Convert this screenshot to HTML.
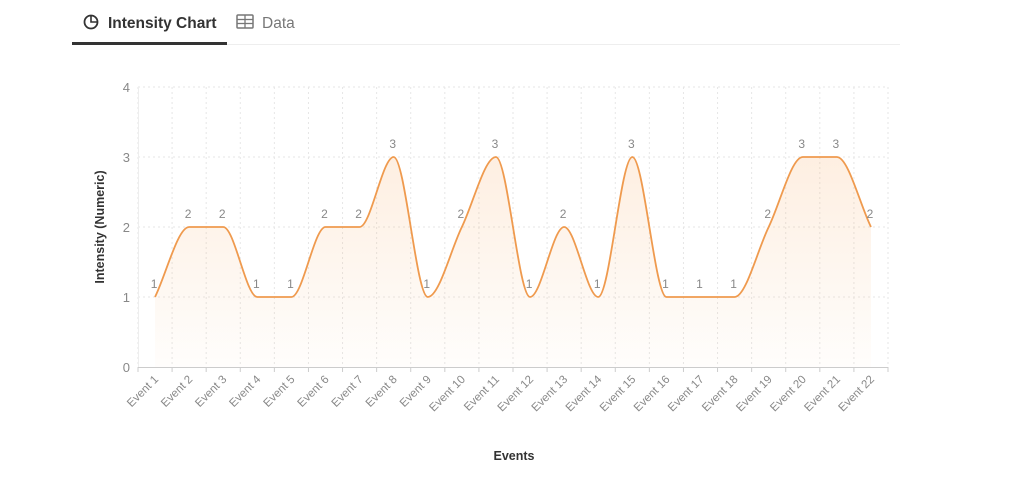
<!DOCTYPE html>
<html><head><meta charset="utf-8"><style>
body{margin:0;background:#fff;width:1024px;height:474px;overflow:hidden;font-family:"Liberation Sans",sans-serif}
</style></head><body>
<svg id="s" width="1024" height="474" xmlns="http://www.w3.org/2000/svg">
<defs><linearGradient id="g" x1="0" y1="0" x2="0" y2="1"><stop offset="0" stop-color="#f6a55a" stop-opacity="0.18"/><stop offset="1" stop-color="#f6a55a" stop-opacity="0.02"/></linearGradient></defs>
<line x1="72" y1="44.5" x2="900" y2="44.5" stroke="#eee" stroke-width="1"/>
<rect x="72" y="42" width="155" height="3" fill="#333"/>
<circle cx="91" cy="22" r="6.5" fill="none" stroke="#333" stroke-width="1.8"/>
<path d="M91 15.5 V22 H97.5" fill="none" stroke="#333" stroke-width="1.6"/>
<text x="108" y="28" font-size="15.5" font-weight="bold" fill="#333">Intensity Chart</text>
<rect x="237" y="15" width="16" height="13" fill="none" stroke="#777" stroke-width="1.5" rx="1"/>
<line x1="237" y1="19.5" x2="253" y2="19.5" stroke="#777" stroke-width="1.3"/>
<line x1="237" y1="23.5" x2="253" y2="23.5" stroke="#777" stroke-width="1.3"/>
<line x1="245" y1="15" x2="245" y2="28" stroke="#777" stroke-width="1.3"/>
<text x="262" y="28" font-size="15.5" fill="#777">Data</text>
<g id="c"></g>
<text transform="translate(104,227) rotate(-90)" text-anchor="middle" font-size="12.5" font-weight="bold" fill="#333">Intensity (Numeric)</text>
<text x="514" y="460" text-anchor="middle" font-size="12.5" font-weight="bold" fill="#333">Events</text>
</svg>
<script>
var v=[1,2,2,1,1,2,2,3,1,2,3,1,2,1,3,1,1,1,2,3,3,2];
var L=138,R=888,T=87,B=367,bw=(R-L)/22;
function X(i){return L+bw*(i+.5)}function Y(d){return B-d*70}
var h='';
for(var k=0;k<=4;k++){var y=Y(k);if(k>0)h+='<line x1="'+L+'" x2="'+R+'" y1="'+y+'" y2="'+y+'" stroke="#e6e6e6" stroke-dasharray="2,3"/>';
h+='<text x="'+(L-8)+'" y="'+(y+5)+'" text-anchor="end" font-size="13" fill="#888">'+k+'</text>';}
for(var i=0;i<=22;i++){var x=L+bw*i;h+='<line x1="'+x+'" x2="'+x+'" y1="'+T+'" y2="'+B+'" stroke="#e6e6e6" stroke-dasharray="2,3"/>';
h+='<line x1="'+x+'" x2="'+x+'" y1="'+B+'" y2="'+(B+5)+'" stroke="#ccc"/>';}
h+='<line x1="'+L+'" x2="'+R+'" y1="'+(B+0.5)+'" y2="'+(B+0.5)+'" stroke="#ccc"/>';
h+='<line x1="'+(L+0.5)+'" x2="'+(L+0.5)+'" y1="'+T+'" y2="'+B+'" stroke="#eee"/>';
var n=v.length,xs=[],ys=[],m=[],t=[];
for(i=0;i<n;i++){xs.push(X(i));ys.push(Y(v[i]));}
for(i=0;i<n-1;i++)m.push((ys[i+1]-ys[i])/(xs[i+1]-xs[i]));
for(i=0;i<n;i++){if(i==0)t.push(m[0]);else if(i==n-1)t.push(m[n-2]);else{if(m[i-1]*m[i]<=0)t.push(0);else t.push((m[i-1]+m[i])/2);}}
for(i=0;i<n-1;i++){if(m[i]==0){t[i]=0;t[i+1]=0;continue;}var a=t[i]/m[i],b=t[i+1]/m[i],s=a*a+b*b;if(s>9){var q=3/Math.sqrt(s);t[i]=q*a*m[i];t[i+1]=q*b*m[i];}}
var p='M'+xs[0]+','+ys[0];
for(i=0;i<n-1;i++){var dx=(xs[i+1]-xs[i])/3;p+='C'+(xs[i]+dx)+','+(ys[i]+t[i]*dx)+','+(xs[i+1]-dx)+','+(ys[i+1]-t[i+1]*dx)+','+xs[i+1]+','+ys[i+1];}
h+='<path d="'+p+'L'+xs[n-1]+','+B+'L'+xs[0]+','+B+'Z" fill="url(#g)"/>';
h+='<path d="'+p+'" fill="none" stroke="#ef9a4e" stroke-width="1.8"/>';
for(i=0;i<n;i++){h+='<text x="'+(xs[i]-1)+'" y="'+(ys[i]-9)+'" text-anchor="middle" font-size="12" fill="#888">'+v[i]+'</text>';
h+='<text transform="translate('+(xs[i]+4)+','+(B+13)+') rotate(-45)" text-anchor="end" font-size="11.5" fill="#888">Event '+(i+1)+'</text>';}
document.getElementById('c').innerHTML=h;
</script>
</body></html>
